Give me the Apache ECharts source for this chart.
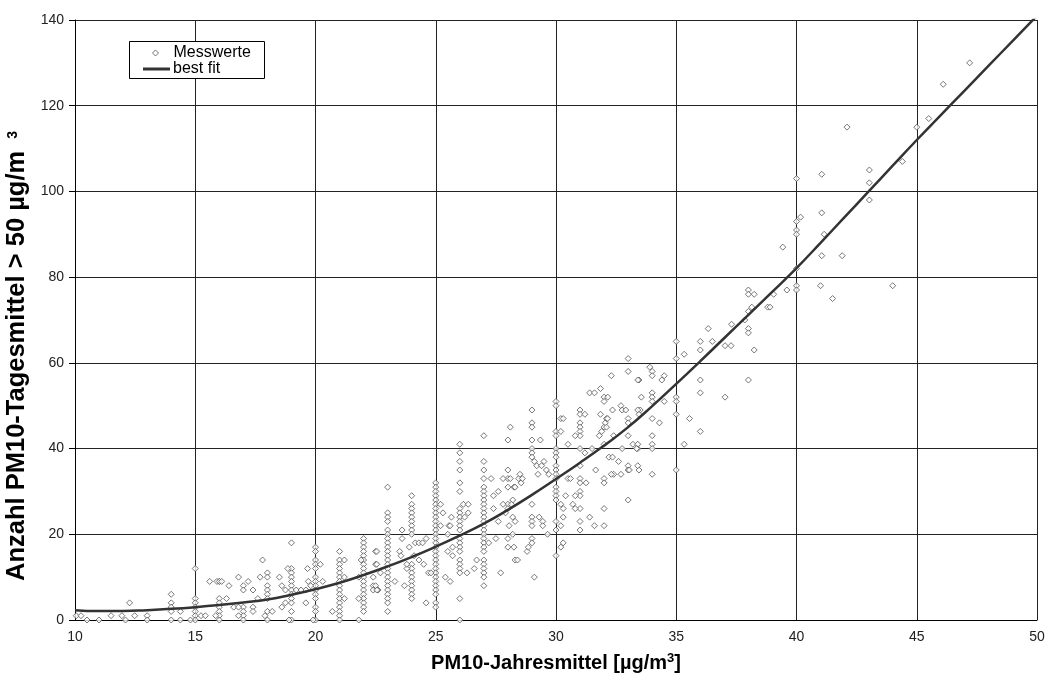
<!DOCTYPE html>
<html>
<head>
<meta charset="utf-8">
<script src="https://cdn.jsdelivr.net/npm/echarts@6/dist/echarts.min.js"></script>
<style>
html,body{margin:0;padding:0;background:#fff;}
#chart{width:1049px;height:679px;}
</style>
</head>
<body>
<div id="chart"></div>
<script>
// ---- data ----
const xTicks = [10, 15, 20, 25, 30, 35, 40, 45, 50];
const yTicks = [0, 20, 40, 60, 80, 100, 120, 140];

// measured values stacked on integer x positions
const columnX = [14, 15, 16, 17, 18, 19, 20, 21, 22, 23, 24, 25, 26, 27, 28, 29, 30, 31, 33, 34, 35, 36, 38, 40];
const columnY = [
  [6, 4, 3, 2, 0],
  [12, 5, 4, 3, 2, 1, 0],
  [9, 5, 4, 3, 2, 1, 0],
  [8, 7, 3, 2, 1, 0],
  [11, 10, 8, 7, 6, 5, 2, 0],
  [18, 12, 11, 10, 9, 8, 7, 6, 5, 4, 2, 0],
  [17, 16, 14, 13, 12, 10, 9, 8, 7, 6, 5, 3, 2, 0],
  [16, 14, 13, 12, 11, 10, 9, 8, 7, 6, 5, 4, 3, 2, 1, 0],
  [19, 18, 17, 16, 15, 14, 13, 12, 11, 10, 9, 8, 7, 6, 5, 4, 3, 2],
  [31, 25, 24, 23, 21, 20, 19, 18, 17, 16, 15, 14, 13, 12, 11, 10, 9, 8, 7, 6, 5, 4, 2],
  [29, 27, 26, 25, 24, 23, 22, 21, 20, 13, 12, 11, 10, 9, 8, 7, 6, 5],
  [32, 31, 30, 29, 28, 27, 26, 25, 24, 23, 22, 21, 20, 19, 18, 17, 16, 15, 14, 13, 12, 11, 10, 9, 8, 7, 6, 4, 3],
  [41, 39, 37, 35, 32, 30, 26, 25, 24, 23, 22, 21, 19, 18, 17, 16, 14, 13, 12, 11, 5, 0],
  [43, 37, 35, 33, 31, 30, 29, 28, 27, 26, 25, 24, 23, 22, 21, 20, 19, 18, 17, 16, 14, 13, 12, 11, 10, 8],
  [42, 35, 33, 31, 27, 26, 19, 17],
  [49, 46, 45, 42, 40, 39, 38, 27, 24, 23, 22, 19, 18],
  [51, 50, 44, 43, 40, 39, 38, 36, 35, 34, 33, 31, 30, 29, 28, 23, 21, 15],
  [49, 48, 46, 45, 44, 43, 40, 36, 33, 32, 30, 29, 26, 23, 21],
  [61, 58, 47, 46, 43, 36, 35, 28],
  [53, 52, 51, 47, 43, 41, 40, 34],
  [65, 61, 52, 51, 48, 35],
  [65, 63, 56, 53, 44],
  [77, 76, 72, 68, 67, 56],
  [103, 93, 91, 90, 82, 78, 77]
];

// other measured values
const looseX = [
  10.05, 10.25, 10.5, 11, 11.5, 11.95, 12.1, 12.27, 12.48, 13, 13, 14.38, 14.38, 14.8, 15.24, 15.42,
  15.6, 15.9, 16.0, 16.1, 15.85, 16.3, 16.4, 16.6, 16.8, 16.8, 16.8, 17.2, 17.4, 17.4, 17.4, 17.6,
  17.7, 17.8, 17.9, 18.2, 18.5, 18.6, 18.6, 18.75, 18.75, 18.9, 18.85, 19.2, 19.4, 19.6, 19.6, 19.67,
  19.7, 19.8, 19.9, 20.2, 20.3, 20.7, 21.2, 21.2, 21.2, 21.8, 21.9, 21.8, 21.8, 22.4, 22.4, 22.4,
  22.5, 22.6, 22.5, 22.7, 22.55, 22.55, 22.5, 22.55,
  23.3, 23.5, 23.55, 23.7, 23.6, 23.6, 23.8, 23.8, 23.9,
  24.1, 24.15, 24.3, 24.3, 24.45, 24.5, 24.6, 24.7, 24.8, 24.6,
  25.2, 25.2, 25.3, 25.4, 25.5, 25.5, 25.55, 25.6, 25.6, 25.65, 25.7, 25.7,
  26.15, 26.35, 26.2, 26.35, 26.3, 26.6, 26.7,
  27.2, 27.3, 27.4, 27.4, 27.6, 27.5, 27.6, 27.7, 27.8, 27.8,
  27.9, 28.05, 28.2, 28.25, 28.3, 28.4, 28.1, 28.1, 28.25, 28.3, 28.45, 28.5, 28.55, 28.6, 28.2, 28.15, 28.2, 28.3,
  28.8, 28.85, 29.1, 29.1, 29.2, 29.25, 29.3, 29.45, 29.5, 29.4, 29.35, 29.45, 29.6, 29.65, 29.7,
  30.2, 30.2, 30.2, 30.2, 30.2, 30.3, 30.3, 30.3, 30.3, 30.4, 30.5, 30.5, 30.6, 30.7, 30.8, 30.8, 30.8,
  31.2, 31.2, 31.25, 31.4, 31.6, 31.85, 31.4, 31.6, 31.65, 31.5, 31.8, 31.85, 31.9, 32.0, 32.05, 32.1,
  32.1, 32.15, 32.0, 32.15, 32.0, 32.0, 32.0, 32.0, 32.0, 32.0, 32.2, 32.35, 32.4, 32.35, 32.3, 32.3,
  32.4, 32.6, 32.7, 32.75, 32.7, 32.75, 32.9, 33.05, 33.2, 33.4, 33.45, 33.45, 33.55, 33.5,
  33.4, 33.4, 33.45, 33.4, 33.35, 33.4, 33.9, 34.0, 34.0, 34.4, 34.5, 34.5, 34.3,
  35.33, 35.33, 35.55, 36.33, 36.5, 37.03, 37.03, 37.28, 37.3, 37.85, 38.14, 38.24, 38.24, 38.8, 38.9,
  39.05, 39.6, 41.0, 41.5, 44.0,
  39.43, 40.17, 41.05, 41.05, 41.05, 41.15, 41.9, 42.1, 43.03, 43.03, 43.03, 44.4, 45.0, 45.5, 46.1, 47.2
];
const looseY = [
  1, 1, 0, 0, 1, 1, 0, 4, 1, 1, 0, 2, 0, 0, 1, 1,
  9, 9, 9, 9, 1, 5, 8, 3, 10, 3, 1, 9, 7, 3, 2, 5,
  10, 14, 1, 2, 10, 8, 3, 7, 4, 0, 12, 7, 7, 4, 7, 12,
  9, 8, 0, 13, 9, 2, 14, 10, 5, 0, 14, 10, 5, 10, 8, 7,
  16, 7, 13, 11, 16, 13, 8, 7,
  9, 16, 15, 8, 21, 19, 12, 13, 17,
  15, 18, 18, 14, 18, 13, 19, 11, 11, 4,
  27, 22, 25, 10, 16, 20, 22, 22, 9, 24, 17, 15,
  27, 27, 24, 25, 11, 12, 14,
  18, 33, 29, 26, 30, 19, 23, 11, 33, 27,
  25, 22, 20, 17, 14, 14, 45, 33, 31, 31, 33, 34, 32, 33, 28, 27, 24, 23,
  16, 17, 10, 37, 36, 34, 24, 23, 37, 36, 42, 22, 35, 20, 34,
  47, 44, 27, 22, 17, 18, 47, 26, 24, 29, 41, 33, 33, 27, 29, 26, 43,
  48, 39, 32, 53, 53, 54, 24, 22, 35, 40, 43, 48, 44, 45, 46, 47,
  45, 47, 52, 52, 51, 41, 33, 32, 26, 22, 38, 38, 34, 49, 57, 34,
  43, 37, 34, 40, 50, 49, 49, 35, 41, 40, 56, 35, 52, 49,
  56, 49, 48, 41, 40, 36, 59, 58, 57, 56, 57, 51, 46,
  62, 41, 47, 68, 65, 64, 52, 64, 69, 70, 73, 76, 63, 73, 73,
  76, 77, 78, 75, 78,
  87, 94, 104, 95, 85, 90, 85, 115, 105, 102, 98, 107, 115, 117, 125, 130
];

// best-fit curve
const fitX = [10, 11, 12, 13, 14, 15, 16, 17, 18, 19, 20, 21, 22, 23, 24, 25, 26, 27, 28, 29, 30,
              31, 32, 33, 34, 35, 36, 37, 38, 39, 40, 41, 42, 43, 44, 45, 46, 47, 48, 49, 50];
const fitY = [2.3, 2.1, 2.1, 2.3, 2.6, 3.0, 3.5, 4.1, 4.8, 5.9, 7.2, 8.7, 10.5, 12.5, 14.7, 17.1, 19.7, 22.5, 25.7, 29.2, 32.9,
              36.7, 40.7, 45.0, 49.9, 55.1, 60.4, 65.8, 71.2, 76.6, 82.1, 88.0, 94.0, 100.0, 106.0, 112.0, 117.8, 123.6, 129.4, 135.2, 141.0];

// ---- build series data ----
const scatterData = [];
columnX.forEach((x, i) => columnY[i].forEach(y => scatterData.push([x, y])));
looseX.forEach((x, i) => scatterData.push([x, looseY[i]]));
const fitData = fitX.map((x, i) => [x, fitY[i]]);

const FONT = "'Liberation Sans', Arial, sans-serif";
const chart = echarts.init(document.getElementById('chart'), null, {renderer: 'canvas'});
chart.setOption({
  animation: false,
  backgroundColor: '#ffffff',
  textStyle: {fontFamily: FONT},
  grid: {left: 75, right: 12, top: 20, bottom: 59, containLabel: false, outerBoundsMode: 'none'},
  graphic: [{
    type: 'rect', z: 10, silent: true,
    shape: {x: 129.5, y: 41.5, width: 135, height: 37},
    style: {fill: '#fff', stroke: '#000', lineWidth: 1}
  }],
  legend: [
    {
      z: 20, left: 152, top: 45, padding: 0,
      itemWidth: 6, itemHeight: 6, symbolKeepAspect: true,
      textStyle: {fontSize: 16, color: '#000', fontFamily: FONT, padding: [0, 0, 0, 10]},
      data: [{name: 'Messwerte', icon: 'diamond', itemStyle: {color: '#fff', borderColor: '#555', borderWidth: 1}}]
    },
    {
      z: 20, left: 143, top: 61, padding: 0,
      itemWidth: 27, itemHeight: 3,
      textStyle: {fontSize: 16, color: '#000', fontFamily: FONT, padding: [0, 0, 0, -2]},
      data: [{name: 'best fit', icon: 'rect', itemStyle: {color: '#333', borderWidth: 0}}]
    }
  ],
  xAxis: {
    type: 'value', min: xTicks[0], max: xTicks[xTicks.length - 1], interval: 5,
    name: '{a|PM10-Jahresmittel [µg/m}{s|3}{a|]}',
    nameLocation: 'middle', nameGap: 31,
    nameTextStyle: {
      rich: {
        a: {fontSize: 20, fontWeight: 'bold', color: '#000', fontFamily: FONT, lineHeight: 24},
        s: {fontSize: 13, fontWeight: 'bold', color: '#000', fontFamily: FONT, lineHeight: 24, padding: [0, 0, 10, 0]}
      }
    },
    axisLine: {show: true, lineStyle: {color: '#000', width: 1}},
    axisTick: {show: false},
    axisLabel: {fontSize: 14, color: '#222', margin: 10, fontFamily: FONT},
    splitLine: {show: true, lineStyle: {color: '#222', width: 1}}
  },
  yAxis: {
    type: 'value', min: yTicks[0], max: yTicks[yTicks.length - 1], interval: 20,
    name: '{a|Anzahl PM10-Tagesmittel > 50 µg/m}{s|3}',
    nameLocation: 'middle', nameGap: 40, nameRotate: 90,
    nameTextStyle: {
      padding: [0, 72, 0, 0],
      rich: {
        a: {fontSize: 25.5, fontWeight: 'bold', color: '#000', fontFamily: FONT, lineHeight: 28},
        s: {fontSize: 14, fontWeight: 'bold', color: '#000', fontFamily: FONT, lineHeight: 28, padding: [0, 0, 8, 12]}
      }
    },
    axisLine: {show: true, lineStyle: {color: '#000', width: 1}},
    axisTick: {show: true, inside: false, length: 6, lineStyle: {color: '#000'}},
    axisLabel: {fontSize: 14, color: '#222', margin: 11, fontFamily: FONT},
    splitLine: {show: true, lineStyle: {color: '#222', width: 1}}
  },
  series: [
    {
      name: 'Messwerte', type: 'scatter', symbol: 'diamond', symbolSize: 6, symbolKeepAspect: true,
      itemStyle: {color: '#fff', borderColor: '#555', borderWidth: 1},
      data: scatterData, z: 2
    },
    {
      name: 'best fit', type: 'line', smooth: true, showSymbol: false, symbol: 'none',
      lineStyle: {color: '#333', width: 2.5},
      itemStyle: {color: '#333'},
      data: fitData, z: 3
    }
  ]
});
</script>
</body>
</html>
